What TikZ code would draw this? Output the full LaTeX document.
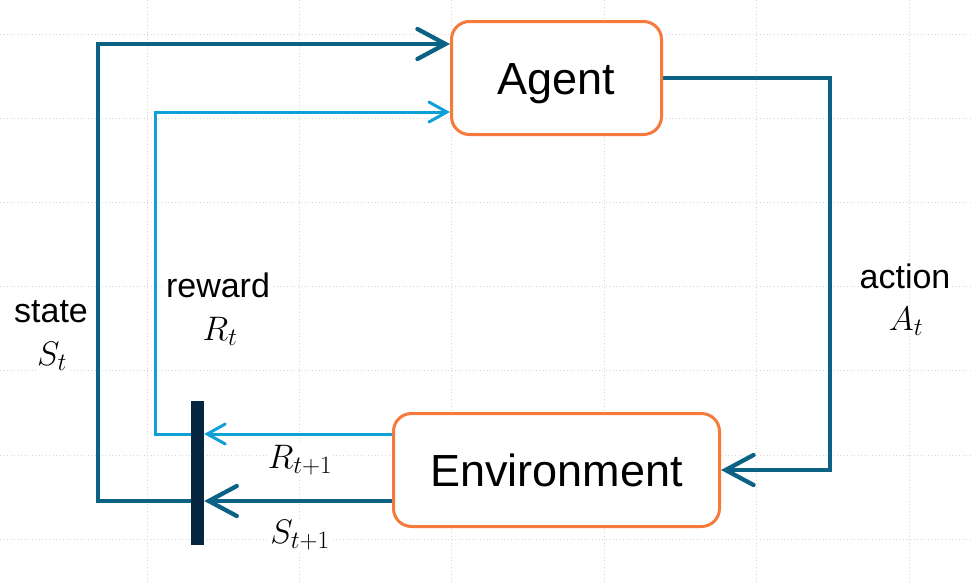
\RequirePackage{fix-cm}
\documentclass[tikz,border=0pt]{standalone}
\usepackage{fontspec}
\setmainfont{Liberation Sans}
\usetikzlibrary{arrows.meta}
\pgfdeclarelayer{gridlayer}
\pgfdeclarelayer{linelayer}
\pgfsetlayers{gridlayer,linelayer,main}
\definecolor{dblue}{RGB}{12,98,132}
\definecolor{lblue}{RGB}{14,160,214}
\definecolor{orng}{RGB}{245,122,60}
\definecolor{navy}{RGB}{6,38,64}
\definecolor{gridc}{RGB}{215,215,215}
\DeclareMathSizes{34}{34}{25}{18}
\begin{document}
\begin{tikzpicture}[x=1pt,y=-1pt,
  box/.style={draw=orng, line width=3pt, rounded corners=18pt, fill=white,
    minimum height=113pt, inner sep=0pt, text height=33pt, text depth=0pt,
    font=\fontsize{45}{54}\selectfont},
  lab/.style={font=\fontsize{34}{40}\selectfont, anchor=base, inner sep=1pt, fill=white},
  darkline/.style={draw=dblue, line width=4.3pt,
    -{Straight Barb[length=28pt,width=30pt,line cap=round]}},
  lightline/.style={draw=lblue, line width=3pt,
    -{Straight Barb[length=18pt,width=20pt,line cap=round]}},
  gridline/.style={draw=gridc, line width=1pt, dash pattern=on 1pt off 2.5pt}
]
\useasboundingbox (0,0) rectangle (972,582);
\begin{pgfonlayer}{gridlayer}
  \fill[white] (0,0) rectangle (972,582);
  \foreach \y in {34,118.2,202.4,286.6,370.8,455,539.2}
    \draw[gridline] (0,\y) -- (972,\y);
  \foreach \x in {147,299.4,451.8,604.2,756.6,909}
    \draw[gridline] (\x,0) -- (\x,582);
\end{pgfonlayer}

\node[box, minimum width=210pt] (agent) at (556.5,78) {Agent};
\node[box, minimum width=326pt] (env) at (556.5,470) {Environment};
\node[fill=navy, draw=none, inner sep=0pt, minimum width=13pt, minimum height=144pt] (bar) at (197.5,473) {};

\coordinate (sy) at (0,501);
\coordinate (ry) at (0,434);
\coordinate (sTop) at (0,44);
\coordinate (rTop) at (0,112);
\coordinate (sX) at (98,0);
\coordinate (rX) at (155,0);
\coordinate (aX) at (830,0);

\begin{pgfonlayer}{linelayer}
  % state
  \draw[darkline] (env.west |- sy) -- (bar.east |- sy);
  \draw[darkline] (bar.center |- sy) -- (sX |- sy) -- (sX |- sTop) -- (agent.west |- sTop);
  % reward
  \draw[lightline] (env.west |- ry) -- (bar.east |- ry);
  \draw[lightline] (bar.center |- ry) -- (rX |- ry) -- (rX |- rTop) -- (agent.west |- rTop);
  % action
  \draw[darkline] (agent.east) -- (aX |- agent.east) -- (aX |- env.east) -- (env.east);
\end{pgfonlayer}

\node[lab] (stateL) at (51,322) {state};
\node[lab] (stateM) at (52,365) {$S_t$};
\node[lab] (rewL) at (218,297) {reward};
\node[lab] (rewM) at (220,340) {$R_t$};
\node[lab] (actL) at (905,288) {action};
\node[lab] (actM) at (906,330) {$A_t$};
\node[lab] (r1) at (300,468) {$R_{t+1}$};
\node[lab] (s1) at (300,543) {$S_{t+1}$};
\end{tikzpicture}
\end{document}
